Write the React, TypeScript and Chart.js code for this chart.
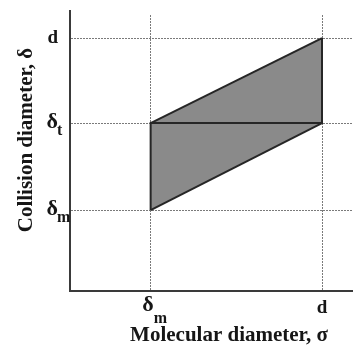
import React, { useEffect, useRef } from "react";
import { Chart, registerables } from "chart.js";

Chart.register(...registerables);

// ---- data ----
const sigmaTickValues = [0.32, 1];
const sigmaTickBase = ["δ", "d"];
const sigmaTickSub = ["m", ""];

const deltaTickValues = [0.32, 0.664, 1];
const deltaTickBase = ["δ", "δ", "d"];
const deltaTickSub = ["m", "t", ""];

const upperEdgeX = [0.32, 1];
const upperEdgeY = [0.664, 1];
const lowerEdgeX = [0.32, 1];
const lowerEdgeY = [0.32, 0.664];
const innerPathX = [0.32, 0.32, 1, 1];
const innerPathY = [0.32, 0.664, 0.664, 1];

const xTitle = "Molecular diameter, σ";
const yTitle = "Collision diameter, δ";

const xMax = 1.123;
const yMax = 1.091;

const toPoints = (xs: number[], ys: number[]) => xs.map((x, i) => ({ x, y: ys[i] }));

const FONT = '"Liberation Serif", "Times New Roman", serif';

const baseFont = (s: string) => (s === "δ" ? `bold 22px ${FONT}` : `bold 19px ${FONT}`);

const labelsPlugin = {
  id: "customLabels",
  afterDraw(chart: any) {
    const ctx = chart.ctx as CanvasRenderingContext2D;
    const xS = chart.scales.x;
    const yS = chart.scales.y;
    const area = chart.chartArea;
    ctx.save();
    // y axis line extends above the plot a little
    ctx.strokeStyle = "#3a3a3a";
    ctx.lineWidth = 2;
    ctx.beginPath();
    ctx.moveTo(area.left, area.top - 5);
    ctx.lineTo(area.left, area.top + 1);
    ctx.stroke();

    ctx.fillStyle = "#161616";
    ctx.textBaseline = "alphabetic";
    // x tick labels
    sigmaTickValues.forEach((v, i) => {
      const px = xS.getPixelForValue(v);
      const base = sigmaTickBase[i];
      const sub = sigmaTickSub[i];
      ctx.font = baseFont(base);
      if (sub) {
        ctx.textAlign = "right";
        ctx.fillText(base, px + 3, 311);
        ctx.font = `bold 16px ${FONT}`;
        ctx.textAlign = "left";
        ctx.fillText(sub, px + 3, 323);
      } else {
        ctx.textAlign = "center";
        ctx.fillText(base, px, 313);
      }
    });
    // y tick labels
    deltaTickValues.forEach((v, i) => {
      const py = yS.getPixelForValue(v);
      const base = deltaTickBase[i];
      const sub = deltaTickSub[i];
      ctx.font = baseFont(base);
      ctx.textAlign = "right";
      ctx.fillText(base, 58, py + 5);
      if (sub) {
        ctx.font = `bold 16px ${FONT}`;
        ctx.textAlign = "left";
        ctx.fillText(sub, 57, py + 12);
      }
    });
    // axis titles
    ctx.font = `bold 21px ${FONT}`;
    ctx.textAlign = "center";
    ctx.fillText(xTitle, 229, 341);
    ctx.save();
    ctx.translate(32, 140);
    ctx.rotate(-Math.PI / 2);
    ctx.fillText(yTitle, 0, 0);
    ctx.restore();
    ctx.restore();
  },
};

export default function App() {
  const ref = useRef<HTMLCanvasElement | null>(null);
  useEffect(() => {
    if (!ref.current) return;
    const lineColor = "#262626";
    const chart = new Chart(ref.current, {
      type: "scatter",
      data: {
        datasets: [
          {
            data: toPoints(upperEdgeX, upperEdgeY),
            showLine: true,
            borderColor: lineColor,
            borderWidth: 2,
            pointRadius: 0,
            fill: false,
            order: 1,
          },
          {
            data: toPoints(lowerEdgeX, lowerEdgeY),
            showLine: true,
            borderColor: lineColor,
            borderWidth: 2,
            pointRadius: 0,
            fill: "-1",
            backgroundColor: "#8a8a8a",
            order: 2,
          },
          {
            data: toPoints(innerPathX, innerPathY),
            showLine: true,
            borderColor: lineColor,
            borderWidth: 2,
            pointRadius: 0,
            fill: false,
            order: 0,
          },
        ],
      },
      options: {
        responsive: false,
        animation: false,
        layout: { padding: { top: 15, left: 0, right: 0, bottom: 0 } },
        plugins: {
          legend: { display: false },
          tooltip: { enabled: false },
          title: { display: false },
        },
        scales: {
          x: {
            type: "linear",
            min: 0,
            max: xMax,
            afterBuildTicks: (s: any) => {
              s.ticks = sigmaTickValues.map((value) => ({ value }));
            },
            afterFit: (s: any) => {
              s.height = 69;
            },
            ticks: { display: false },
            grid: { color: "#7a7a7a", lineWidth: 1, drawTicks: false },
            border: { display: true, color: "#3a3a3a", width: 2, dash: [2, 1] },
          },
          y: {
            type: "linear",
            min: 0,
            max: yMax,
            afterBuildTicks: (s: any) => {
              s.ticks = deltaTickValues.map((value) => ({ value }));
            },
            afterFit: (s: any) => {
              s.width = 70;
            },
            ticks: { display: false },
            grid: { color: "#7a7a7a", lineWidth: 1, drawTicks: false },
            border: { display: true, color: "#3a3a3a", width: 2, dash: [2, 1] },
          },
        },
      },
      plugins: [labelsPlugin],
    });
    return () => chart.destroy();
  }, []);
  return (
    <div style={{ position: "absolute", left: 0, top: 0, width: 353, height: 360, background: "#fff" }}>
      <canvas ref={ref} width={353} height={360} />
    </div>
  );
}
